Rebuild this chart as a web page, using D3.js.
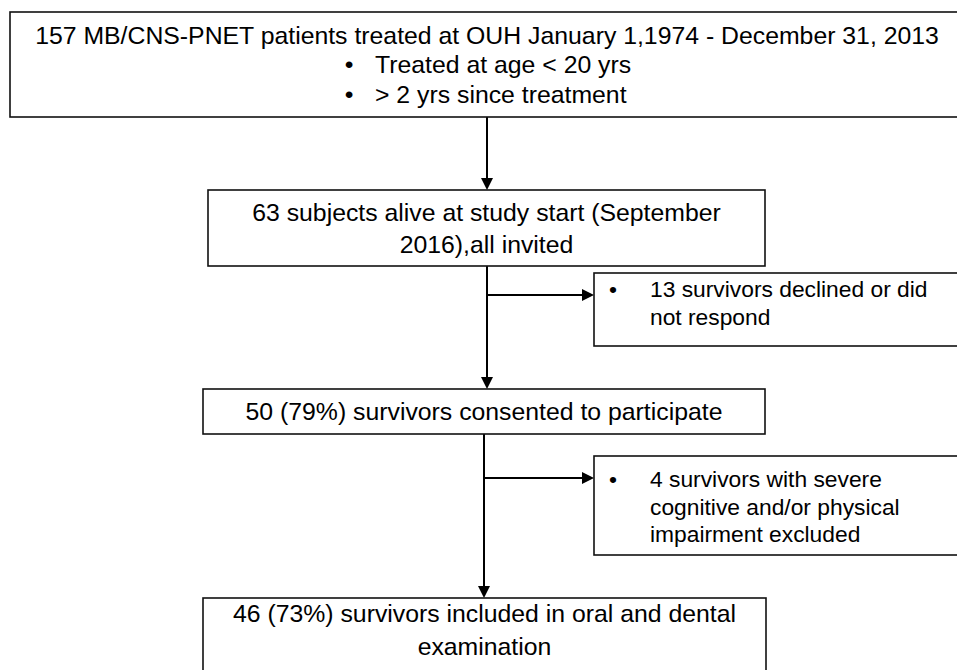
<!DOCTYPE html>
<html>
<head>
<meta charset="utf-8">
<script src="https://cdn.jsdelivr.net/npm/d3@7"></script>
<style>
  html, body { margin: 0; padding: 0; background: #fff; }
  svg text { font-family: "Liberation Sans", Arial, Helvetica, sans-serif; fill: #000; }
</style>
</head>
<body>
<svg id="flow" width="957" height="670"></svg>
<script>
// flow steps (main column)
var stepLabels = [
  ["157 MB/CNS-PNET patients treated at OUH January 1,1974 - December 31, 2013"],
  ["63 subjects alive at study start (September", "2016),all invited"],
  ["50 (79%) survivors consented to participate"],
  ["46 (73%) survivors included in oral and dental", "examination"]
];
// inclusion criteria listed under the first step
var criteria = ["Treated at age < 20 yrs", "> 2 yrs since treatment"];
// exclusions branching off to the right
var exclusionLabels = [
  ["13 survivors declined or did", "not respond"],
  ["4 survivors with severe", "cognitive and/or physical", "impairment excluded"]
];

// layout (pixels)
var mainBoxes = [
  {x0: 10, x1: 964, y0: 12, y1: 117, base: 44, gap: 30},
  {x0: 208, x1: 765, y0: 190, y1: 266, base: 221, gap: 31.5},
  {x0: 203, x1: 765, y0: 389, y1: 434, base: 420, gap: 30},
  {x0: 203, x1: 766, y0: 598, y1: 690, base: 622, gap: 33}
];
var sideBoxes = [
  {x0: 594, x1: 964, y0: 273, y1: 346, base: 297, from: 1},
  {x0: 594, x1: 964, y0: 456, y1: 555, base: 487, from: 2}
];
var sideGap = 27.5,
    fontSize = 24.8,
    sideFont = 22.8;

var svg = d3.select("#flow");
var line = d3.line();

function arrowHead(g, tip, dir) {
  var L = 12, w = 6, pts;
  if (dir === "down") pts = [[tip[0], tip[1]], [tip[0] - w, tip[1] - L], [tip[0] + w, tip[1] - L]];
  else pts = [[tip[0], tip[1]], [tip[0] - L, tip[1] - w], [tip[0] - L, tip[1] + w]];
  g.append("path").attr("d", line(pts) + "Z").attr("fill", "#000");
}

var links = svg.append("g").attr("class", "links");

// vertical connectors between main steps
var spineX = [487, 487, 484];
mainBoxes.slice(0, -1).forEach(function (b, i) {
  var next = mainBoxes[i + 1];
  var x = spineX[i];
  links.append("path")
    .attr("d", line([[x, b.y1], [x, next.y0 - 10]]))
    .attr("stroke", "#000").attr("stroke-width", 2).attr("fill", "none");
  arrowHead(links, [x, next.y0], "down");
});

// side branches
var branchY = [295, 478];
sideBoxes.forEach(function (s, i) {
  var x = spineX[s.from];
  links.append("path")
    .attr("d", line([[x, branchY[i]], [s.x0 - 10, branchY[i]]]))
    .attr("stroke", "#000").attr("stroke-width", 2).attr("fill", "none");
  arrowHead(links, [s.x0, branchY[i]], "right");
});

// main boxes
var main = svg.selectAll("g.step")
  .data(stepLabels)
  .enter().append("g")
  .attr("class", "step");

main.append("rect")
  .attr("x", function (d, i) { return mainBoxes[i].x0; })
  .attr("y", function (d, i) { return mainBoxes[i].y0; })
  .attr("width", function (d, i) { return mainBoxes[i].x1 - mainBoxes[i].x0; })
  .attr("height", function (d, i) { return mainBoxes[i].y1 - mainBoxes[i].y0; })
  .attr("fill", "#fff")
  .attr("stroke", "#111")
  .attr("stroke-width", 1.6);

main.each(function (d, i) {
  var b = mainBoxes[i];
  d3.select(this).selectAll("text.lbl")
    .data(d)
    .enter().append("text")
    .attr("class", "lbl")
    .attr("x", (b.x0 + b.x1) / 2)
    .attr("y", function (t, j) { return b.base + j * b.gap; })
    .attr("text-anchor", "middle")
    .style("font-size", fontSize + "px")
    .text(function (t) { return t; });
});

// criteria bullets in the first box
var crit = svg.append("g").attr("class", "criteria");
criteria.forEach(function (c, j) {
  var y = mainBoxes[0].base + (j + 1) * mainBoxes[0].gap - 1;
  crit.append("text").attr("x", 349).attr("y", y).attr("text-anchor", "middle")
    .style("font-size", fontSize + "px").text("\u2022");
  crit.append("text").attr("x", 375).attr("y", y)
    .style("font-size", fontSize + "px").text(c);
});

// exclusion boxes
var side = svg.selectAll("g.excl")
  .data(exclusionLabels)
  .enter().append("g")
  .attr("class", "excl");

side.append("rect")
  .attr("x", function (d, i) { return sideBoxes[i].x0; })
  .attr("y", function (d, i) { return sideBoxes[i].y0; })
  .attr("width", function (d, i) { return sideBoxes[i].x1 - sideBoxes[i].x0; })
  .attr("height", function (d, i) { return sideBoxes[i].y1 - sideBoxes[i].y0; })
  .attr("fill", "#fff")
  .attr("stroke", "#111")
  .attr("stroke-width", 1.6);

side.each(function (d, i) {
  var s = sideBoxes[i];
  var g = d3.select(this);
  g.append("text").attr("x", 613).attr("y", s.base).attr("text-anchor", "middle")
    .style("font-size", sideFont + "px").text("\u2022");
  g.selectAll("text.lbl")
    .data(d)
    .enter().append("text")
    .attr("class", "lbl")
    .attr("x", 650)
    .attr("y", function (t, j) { return s.base + j * sideGap; })
    .style("font-size", sideFont + "px")
    .text(function (t) { return t; });
});
</script>
</body>
</html>
